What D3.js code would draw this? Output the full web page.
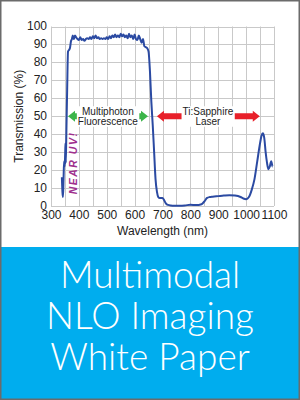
<!DOCTYPE html>
<html>
<head>
<meta charset="utf-8">
<script src="https://cdn.jsdelivr.net/npm/d3@7"></script>
<style>
  html, body { margin: 0; padding: 0; background: #fff; }
  svg { display: block; }
</style>
</head>
<body>
<div id="chart"></div>
<script>
// transmission curve
const wavelength = [339, 341, 343, 345, 347, 349, 351, 352, 353, 355, 358, 361, 365, 368, 372, 375, 378, 382, 386, 390, 395,
  400, 405, 410, 415, 420, 425, 430, 435, 440, 445, 450, 455, 460, 465, 470, 475, 480, 485, 490, 495,
  500, 505, 510, 515, 520, 525, 530, 535, 540, 545, 550, 555, 560, 565, 570, 575, 580, 585, 590, 595,
  600, 605, 610, 615, 620, 625, 630, 635, 640, 645, 650, 655, 660, 665, 670, 675, 680, 685, 690, 695,
  700, 705, 710, 715, 720, 730, 740, 760, 780, 800, 820, 840, 850, 860, 870, 880, 900, 920, 940, 960,
  980, 990, 1000, 1010, 1020, 1030, 1040, 1050, 1055, 1060, 1065, 1070, 1075, 1080, 1085, 1090, 1095, 1100];
const transmission = [16, 8, 5, 15, 25, 22, 30, 35, 24, 40, 65, 86, 87, 88, 92, 93, 95, 93, 95, 94, 93,
  92.5, 94, 92.5, 93, 92, 93, 93.5, 93, 94, 93, 94.5, 93.5, 95, 93.5, 94, 93, 93.5, 93, 93.5, 93,
  94, 93, 94.5, 93.5, 95, 94, 95.5, 94, 95, 94, 96, 94.5, 95.5, 94, 95, 93.5, 96, 94, 95, 93,
  95.5, 93, 92.5, 95, 93, 91, 93, 89, 88.5, 88, 86, 75, 58, 45, 30, 15, 8, 5, 4.5, 4.5,
  4.5, 3.5, 2, 1, 0.6, 0.3, 0.2, 0.2, 0.3, 0.7, 0.5, 1, 2.5, 4.5, 5, 5.2, 5.5, 5.8, 6, 5.8,
  5, 4.2, 3.8, 5, 9, 15, 25, 35, 39, 40.5, 38, 30, 24, 20.5, 22, 25, 22];

const xTicks = [300, 400, 500, 600, 700, 800, 900, 1000, 1100];
const yTicks = [0, 10, 20, 30, 40, 50, 60, 70, 80, 90, 100];

// annotation arrows: [tail, tip] in nm, at 50 %
const greenArrows = [[411, 361], [594, 648]];
const redArrows = [[787, 680], [942, 1049]];
const bandLabels = [
  { x: 504, lines: ['Multiphoton', 'Fluorescence'] },
  { x: 863, lines: ['Ti:Sapphire', 'Laser'] }
];
const titleLines = ['Multimodal', 'NLO Imaging', 'White Paper'];

const W = 300, H = 400;
const svg = d3.select('#chart').append('svg')
  .attr('width', W).attr('height', H)
  .attr('font-family', 'Liberation Sans, Arial, sans-serif');

svg.append('rect').attr('width', W).attr('height', H).attr('fill', '#fff');

const x = d3.scaleLinear().domain([300, 1100]).range([51, 274]);
const y = d3.scaleLinear().domain([0, 100]).range([206, 26.5]);

// grid
const grid = svg.append('g').attr('stroke', '#c9c9c9').attr('stroke-width', 1);
grid.selectAll('line.v')
  .data(d3.range(300, 1101, 50))
  .join('line')
    .attr('x1', d => Math.round(x(d)) + 0.5).attr('x2', d => Math.round(x(d)) + 0.5)
    .attr('y1', y(100)).attr('y2', y(0));
grid.selectAll('line.h')
  .data(yTicks)
  .join('line')
    .attr('x1', x(300)).attr('x2', x(1100))
    .attr('y1', d => Math.round(y(d)) + 0.5).attr('y2', d => Math.round(y(d)) + 0.5);

// axes
const xAxis = svg.append('g')
  .attr('transform', `translate(0,${y(0)})`)
  .call(d3.axisBottom(x).tickValues(xTicks).tickFormat(d3.format('d')).tickSize(0).tickPadding(4));
const yAxis = svg.append('g')
  .attr('transform', `translate(${x(300)},0)`)
  .call(d3.axisLeft(y).tickValues(yTicks).tickFormat(d3.format('d')).tickSize(0).tickPadding(4));
for (const ax of [xAxis, yAxis]) {
  ax.select('.domain').remove();
  ax.selectAll('text')
    .attr('font-size', 12)
    .attr('font-family', 'Liberation Sans, Arial, sans-serif')
    .attr('fill', '#222');
}
yAxis.selectAll('text').attr('dy', '0.27em');

svg.append('text')
  .attr('transform', `translate(23,${y(50)}) rotate(-90)`)
  .attr('text-anchor', 'middle')
  .attr('font-size', 12)
  .attr('fill', '#222')
  .text('Transmission (%)');

svg.append('text')
  .attr('x', x(700)).attr('y', 235)
  .attr('text-anchor', 'middle')
  .attr('font-size', 12)
  .attr('fill', '#222')
  .text('Wavelength (nm)');

// annotations
function arrow(g, [tail, tip], color) {
  const cy = y(50);
  const x0 = x(tail), x1 = x(tip);
  const dir = Math.sign(x1 - x0);
  const head = 7;
  const xh = x1 - dir * head;
  const pts = [[x0, cy - 3], [xh, cy - 3], [xh, cy - 5.5], [x1, cy], [xh, cy + 5.5], [xh, cy + 3], [x0, cy + 3]];
  g.append('path')
    .attr('d', d3.line()(pts) + 'Z')
    .attr('fill', color);
}
const ann = svg.append('g');
for (const a of greenArrows) arrow(ann, a, '#3cb54a');
for (const a of redArrows) arrow(ann, a, '#e8202a');

for (const b of bandLabels) {
  const t = ann.append('text')
    .attr('text-anchor', 'middle')
    .attr('font-size', 10)
    .attr('fill', '#222');
  b.lines.forEach((line, i) => {
    t.append('tspan').attr('x', x(b.x)).attr('y', y(50) - 1 + i * 9.5).text(line);
  });
  const bb = t.node().getBBox();
  ann.insert('rect', () => t.node())
    .attr('x', bb.x - 1).attr('y', bb.y)
    .attr('width', bb.width + 2).attr('height', bb.height)
    .attr('fill', '#fff');
}

svg.append('text')
  .attr('transform', `translate(77,${y(24)}) rotate(-90)`)
  .attr('text-anchor', 'middle')
  .attr('font-size', 10.5)
  .attr('font-weight', 'bold')
  .attr('font-style', 'italic')
  .attr('letter-spacing', 1.5)
  .attr('fill', '#9e2f8e')
  .text('NEAR UV!');

// curve
const pts = wavelength.map((w, i) => [w, transmission[i]]);
svg.append('path')
  .datum(pts)
  .attr('fill', 'none')
  .attr('stroke', '#2b4aa2')
  .attr('stroke-width', 2)
  .attr('stroke-linejoin', 'round')
  .attr('d', d3.line().x(d => x(d[0])).y(d => y(d[1])).curve(d3.curveMonotoneX));

// title banner
svg.append('rect')
  .attr('x', 0).attr('y', 247).attr('width', W).attr('height', H - 247)
  .attr('fill', '#00adee');
svg.append('g')
  .selectAll('text')
  .data(titleLines)
  .join('text')
    .attr('x', W / 2)
    .attr('y', (d, i) => 288 + i * 41)
    .attr('text-anchor', 'middle')
    .attr('font-family', 'Lato, sans-serif')
    .attr('font-weight', 300)
    .attr('font-size', 37)
    .attr('fill', '#fff')
    .text(d => d);

// frame
svg.append('rect')
  .attr('x', 0.75).attr('y', 0.75).attr('width', W - 1.5).attr('height', H - 1.5)
  .attr('fill', 'none').attr('stroke', '#6b6b6b').attr('stroke-width', 1.5);
</script>
</body>
</html>
